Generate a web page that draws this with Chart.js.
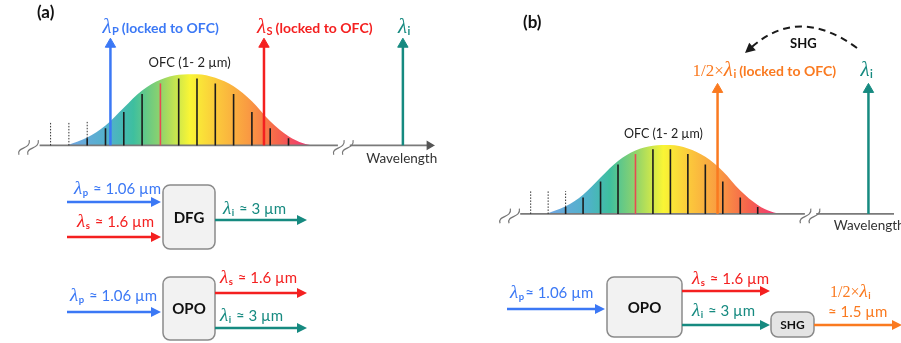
<!DOCTYPE html>
<html>
<head>
<meta charset="utf-8">
<script src="https://cdn.jsdelivr.net/npm/chart.js@4.4.1/dist/chart.umd.min.js"></script>
<style>
  html, body { margin: 0; padding: 0; background: #fff; }
  canvas { display: block; }
</style>
</head>
<body>
<canvas id="myChart" width="901" height="343"></canvas>
<script>
const ctx = document.getElementById('myChart')
const W = 901, H = 343

// comb lines, counted in modes from the centre of the OFC envelope
const combModes = [-7.5, -6.5, -5.5, -4.5, -3.5, -2.5, -1.5, -0.5, 0.5, 1.5, 2.5, 3.5, 4.5, 5.5]
const combHeights = [0, 0, 0.1, 0.24, 0.47, 0.72, 0.87, 0.94, 0.94, 0.87, 0.72, 0.47, 0.24, 0.1]
const dottedModes = [-7.5, -6.5, -5.5]
const dottedTop = 0.33
const lockedMode = -1.5

// OFC envelope (relative intensity)
const envModes = [-6.6, -5.5, -4.5, -3.5, -2.5, -1.5, -0.5, 0.5, 1.5, 2.5, 3.5, 4.5, 5.5, 6.3, 6.8]
const envValues = [0, 0.11, 0.28, 0.53, 0.77, 0.92, 0.99, 1, 0.95, 0.83, 0.62, 0.34, 0.13, 0.03, 0]

// wavelength axis with breaks
const axisModes = [-8.1, 8.2, 8.85]
const axisEnd = { a: 13.2, b: 13.8 }
const breakModes = [-8.7, 8.5]

// panel (a): pump, signal, idler ; panel (b): half idler, idler
const linesA = [-4.23, 4.16, 11.75]
const heightA = 1.42
const linesB = [3.2, 11.84]
const heightB = 1.81

const blue = '#3b78f5', red = '#f42020', teal = '#168a80', orange = '#fa7a20'
const sans = 'Lato, "Open Sans", sans-serif'

// where each panel sits on the page
const panels = {
  a: { center: 183.7, step: 18.59, base: 144.3, unit: 74.3 },
  b: { center: 665, step: 17.74, base: 215.7, unit: 71.7 }
}
function xScale(p) {
  return { type: 'linear', axis: 'x', display: false, min: -p.center / p.step, max: (W - p.center) / p.step }
}
function yScale(p) {
  return { type: 'linear', axis: 'y', display: false, min: -(H - p.base) / p.unit, max: p.base / p.unit }
}

function combPoints(keep) {
  let pts = []
  combModes.forEach((m, i) => {
    if (combHeights[i] > 0 && keep(m)) pts.push({ x: m, y: 0 }, { x: m, y: combHeights[i] }, { x: m, y: null })
  })
  return pts
}
function dottedPoints() {
  let pts = []
  dottedModes.forEach(m => {
    let i = combModes.indexOf(m)
    pts.push({ x: m, y: combHeights[i] }, { x: m, y: dottedTop }, { x: m, y: null })
  })
  return pts
}

function spectrumFill(p) {
  return (c) => {
    const chart = c.chart
    if (!chart.chartArea) return '#8fd46a'
    const xs = chart.scales['x' + p]
    const g = chart.ctx.createLinearGradient(xs.getPixelForValue(envModes[0]), 0, xs.getPixelForValue(envModes[envModes.length - 1]), 0)
    g.addColorStop(0, '#72a6e4')
    g.addColorStop(0.18, '#4fb2c8')
    g.addColorStop(0.27, '#3ebf9f')
    g.addColorStop(0.38, '#8ed36c')
    g.addColorStop(0.5, '#f9f535')
    g.addColorStop(0.62, '#fbc53c')
    g.addColorStop(0.74, '#f99a42')
    g.addColorStop(0.86, '#f6644c')
    g.addColorStop(1, '#ee2f7c')
    return g
  }
}

function arrowSet(p, mode, h, color) {
  return {
    xAxisID: 'x' + p, yAxisID: 'y' + p, order: 1,
    data: [{ x: mode, y: 0 }, { x: mode, y: h }],
    borderColor: color, borderWidth: 2.5,
    pointRadius: [0, 6], pointStyle: 'triangle',
    pointBackgroundColor: color, pointBorderColor: color, pointBorderWidth: 1
  }
}

function panelSets(p) {
  return [
    {
      xAxisID: 'x' + p, yAxisID: 'y' + p, order: 6,
      data: envModes.map((m, i) => ({ x: m, y: envValues[i] })),
      borderWidth: 0, pointRadius: 0, fill: 'origin',
      cubicInterpolationMode: 'monotone',
      backgroundColor: spectrumFill(p)
    },
    {
      xAxisID: 'x' + p, yAxisID: 'y' + p, order: 4,
      data: [{ x: axisModes[0], y: 0 }, { x: axisModes[1], y: 0 }, { x: axisModes[1], y: null },
             { x: axisModes[2], y: 0 }, { x: axisEnd[p], y: 0 }],
      borderColor: '#7a7a7a', borderWidth: 1.6,
      pointRadius: [0, 0, 0, 0, 4], pointStyle: 'triangle', pointRotation: 90,
      pointBackgroundColor: '#555', pointBorderColor: '#555'
    },
    {
      xAxisID: 'x' + p, yAxisID: 'y' + p, order: 3,
      data: combPoints(m => m !== lockedMode),
      borderColor: '#1c1c1c', borderWidth: 1.6, pointRadius: 0
    },
    {
      xAxisID: 'x' + p, yAxisID: 'y' + p, order: 3,
      data: combPoints(m => m === lockedMode),
      borderColor: '#e84a52', borderWidth: 1.6, pointRadius: 0
    },
    {
      xAxisID: 'x' + p, yAxisID: 'y' + p, order: 3,
      data: dottedPoints(),
      borderColor: '#333', borderWidth: 1, borderDash: [1.5, 1.5], pointRadius: 0
    }
  ]
}

let datasets = panelSets('a').concat(panelSets('b'))
datasets.push(arrowSet('a', linesA[0], heightA, blue))
datasets.push(arrowSet('a', linesA[1], heightA, red))
datasets.push(arrowSet('a', linesA[2], heightA, teal))
datasets.push(arrowSet('b', linesB[0], heightB, orange))
datasets.push(arrowSet('b', linesB[1], heightB, teal))

// helpers for the hand-drawn parts
function rich(c, x, y, parts) {
  parts.forEach(p => {
    c.font = p.f
    c.fillStyle = p.c
    x += (p.dx || 0)
    c.fillText(p.t, x, y + (p.dy || 0))
    x += c.measureText(p.t).width
  })
}
function lam(sub, color, rest, restFont, subFont, size, gap) {
  return [
    { t: 'λ', f: 'italic ' + (size || 19) + 'px "Liberation Serif", serif', c: color },
    { t: sub, f: subFont || 'bold 10px ' + sans, c: color, dy: 2, dx: 0.5 },
    { t: rest, f: restFont, c: color, dx: gap || 1 }
  ]
}
function hArrow(c, x1, x2, y, color) {
  c.strokeStyle = color
  c.fillStyle = color
  c.lineWidth = 2.5
  c.beginPath(); c.moveTo(x1, y); c.lineTo(x2 - 8, y); c.stroke()
  c.beginPath(); c.moveTo(x2, y); c.lineTo(x2 - 10, y - 5); c.lineTo(x2 - 10, y + 5); c.closePath(); c.fill()
}
function box(c, x1, y1, x2, y2, label, font, fill) {
  c.beginPath()
  c.roundRect(x1, y1, x2 - x1, y2 - y1, 7)
  c.fillStyle = fill
  c.fill()
  c.strokeStyle = '#8a8a8a'
  c.lineWidth = 1.5
  c.stroke()
  c.fillStyle = '#111'
  c.font = font
  c.textAlign = 'center'
  c.textBaseline = 'middle'
  c.fillText(label, (x1 + x2) / 2, (y1 + y2) / 2 + 1)
  c.textAlign = 'left'
  c.textBaseline = 'alphabetic'
}
function tilde(c, x, y) {
  c.save()
  c.translate(x, y)
  c.rotate(-55 * Math.PI / 180)
  c.beginPath()
  c.moveTo(-9, 0)
  c.bezierCurveTo(-4, -7, 2, 7, 9, 0)
  c.strokeStyle = '#777'
  c.lineWidth = 1.2
  c.stroke()
  c.restore()
}

const labels = {
  id: 'labels',
  afterDraw(chart) {
    const c = chart.ctx
    const xa = chart.scales.xa, ya = chart.scales.ya, xb = chart.scales.xb, yb = chart.scales.yb
    c.save()
    c.textBaseline = 'alphabetic'

    // axis breaks
    breakModes.forEach(m => {
      let x = xa.getPixelForValue(m), y = ya.getPixelForValue(0) + 2
      c.fillStyle = '#fff'
      c.fillRect(x - 5, y - 4, 10, 4)
      tilde(c, x - 4.5, y); tilde(c, x + 4.5, y)
      x = xb.getPixelForValue(m); y = yb.getPixelForValue(0) + 2
      c.fillRect(x - 5, y - 4, 10, 4)
      tilde(c, x - 4.5, y); tilde(c, x + 4.5, y)
    })

    // panel letters
    c.fillStyle = '#111'
    c.font = 'bold 17px ' + sans
    c.fillText('(a)', 37, 18)
    c.fillText('(b)', 523, 28)

    // envelope and axis titles
    c.font = '13px ' + sans
    c.fillStyle = '#222'
    c.textAlign = 'center'
    c.fillText('OFC (1- 2 µm)', xa.getPixelForValue(0.1), ya.getPixelForValue(1.1))
    c.font = '12.5px ' + sans
    c.fillText('OFC (1- 2 µm)', xb.getPixelForValue(0.1), yb.getPixelForValue(1.1))
    c.textAlign = 'left'
    c.font = '13.5px ' + sans
    c.fillStyle = '#333'
    c.fillText('Wavelength', xa.getPixelForValue(9.75), ya.getPixelForValue(-0.24))
    c.fillText('Wavelength', xb.getPixelForValue(9.85), yb.getPixelForValue(-0.24))

    // line labels, panel (a)
    let tipA = ya.getPixelForValue(heightA) - 11
    let bold = 'bold 14px ' + sans
    let sub1 = 'bold 11px ' + sans
    rich(c, xa.getPixelForValue(linesA[0]) - 8, tipA, lam('P', blue, '(locked to OFC)', bold, sub1, 21, 3))
    rich(c, xa.getPixelForValue(linesA[1]) - 7, tipA, lam('S', red, '(locked to OFC)', bold, sub1, 21, 3))
    rich(c, xa.getPixelForValue(linesA[2]) - 5, tipA, lam('i', teal, '', bold, sub1, 21, 3))

    // line labels, panel (b)
    let tipB = yb.getPixelForValue(heightB) - 13
    rich(c, xb.getPixelForValue(linesB[0]) - 25, tipB,
      [{ t: '1/2×', f: '17px "Liberation Serif", serif', c: orange }].concat(lam('i', orange, '(locked to OFC)', bold, sub1, 21, 3)))
    rich(c, xb.getPixelForValue(linesB[1]) - 8, tipB, lam('i', teal, '', bold, sub1, 21, 3))

    // SHG dashed arc
    c.strokeStyle = '#1a1a1a'
    c.fillStyle = '#1a1a1a'
    c.lineWidth = 2
    c.setLineDash([7, 5])
    let sx = 857, sy = 48, cx = 799, cy = 5.5, ex = 745, ey = 53
    let dx = ex - cx, dy = ey - cy, dl = Math.hypot(dx, dy)
    dx /= dl; dy /= dl
    c.beginPath()
    c.moveTo(sx, sy)
    c.quadraticCurveTo(cx, cy, ex - 9 * dx, ey - 9 * dy)
    c.stroke()
    c.setLineDash([])
    c.beginPath()
    c.moveTo(ex, ey)
    c.lineTo(ex - 10 * dx - 5 * dy, ey - 10 * dy + 5 * dx)
    c.lineTo(ex - 10 * dx + 5 * dy, ey - 10 * dy - 5 * dx)
    c.closePath()
    c.fill()
    c.font = 'bold 13px ' + sans
    c.fillStyle = '#111'
    c.fillText('SHG', 790, 48)

    // block diagram (a): DFG
    let reg = '15px ' + sans
    let sub = 'bold 9.5px ' + sans
    box(c, 163, 185, 215, 249, 'DFG', 'bold 15px ' + sans, '#f2f2f2')
    hArrow(c, 67, 161, 202, blue)
    hArrow(c, 67, 161, 237, red)
    hArrow(c, 215, 307, 220, teal)
    rich(c, 74, 194, lam('p', blue, ' ≈ 1.06 µm', reg, sub))
    rich(c, 77, 227, lam('s', red, ' ≈ 1.6 µm', reg, sub))
    rich(c, 223, 214, lam('i', teal, ' ≈ 3 µm', reg, sub))

    // block diagram (a): OPO
    box(c, 163, 277, 215, 340, 'OPO', 'bold 15px ' + sans, '#f2f2f2')
    hArrow(c, 67, 161, 312, blue)
    hArrow(c, 215, 307, 293, red)
    hArrow(c, 215, 307, 328, teal)
    rich(c, 70, 301, lam('p', blue, ' ≈ 1.06 µm', reg, sub))
    rich(c, 220, 283, lam('s', red, ' ≈ 1.6 µm', reg, sub))
    rich(c, 220, 321, lam('i', teal, ' ≈ 3 µm', reg, sub))

    // block diagram (b): OPO + SHG
    box(c, 607, 277, 682, 337, 'OPO', 'bold 15px ' + sans, '#f2f2f2')
    box(c, 771, 312, 814, 337, 'SHG', 'bold 12px ' + sans, '#e4e4e4')
    hArrow(c, 507, 605, 309, blue)
    hArrow(c, 682, 770, 291, red)
    hArrow(c, 682, 770, 325, teal)
    hArrow(c, 814, 902, 325, orange)
    rich(c, 510, 298, lam('p', blue, '≈ 1.06 µm', reg, sub))
    rich(c, 692, 284, lam('s', red, ' ≈ 1.6 µm', reg, sub))
    rich(c, 692, 316, lam('i', teal, ' ≈ 3 µm', reg, sub))
    rich(c, 830, 297, [{ t: '1/2×', f: '16px "Liberation Serif", serif', c: orange }].concat(lam('i', orange, '', reg, sub)))
    c.font = reg
    c.fillStyle = orange
    c.fillText('≈ 1.5 µm', 828, 317)

    c.restore()
  }
}

new Chart(ctx, {
  type: 'line',
  data: { datasets: datasets },
  options: {
    responsive: false,
    animation: false,
    events: [],
    layout: { padding: 0 },
    spanGaps: false,
    plugins: { legend: { display: false }, tooltip: { enabled: false } },
    scales: {
      xa: xScale(panels.a), ya: yScale(panels.a),
      xb: xScale(panels.b), yb: yScale(panels.b)
    }
  },
  plugins: [labels]
})
</script>
</body>
</html>
